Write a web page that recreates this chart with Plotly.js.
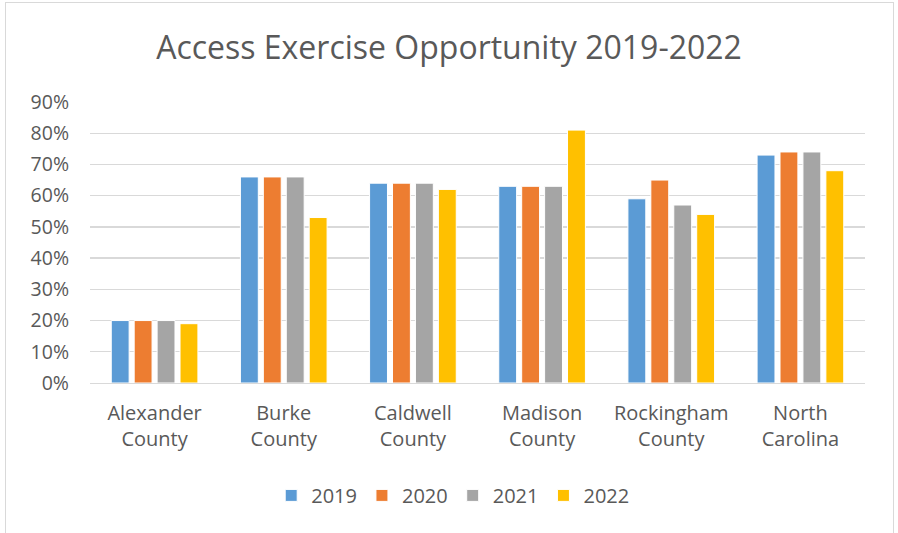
<!DOCTYPE html>
<html>
<head>
<meta charset="utf-8">
<script src="https://cdn.plot.ly/plotly-3.0.1.min.js"></script>
<style>
html,body{margin:0;padding:0;background:#fff;}
#wrap{position:relative;width:898px;height:533px;}
#chart{width:898px;height:533px;}
#frame{position:absolute;left:5px;top:2px;width:887px;height:540px;border:1px solid #D9D9D9;pointer-events:none;}
</style>
</head>
<body>
<div id="wrap"><div id="chart"></div><div id="frame"></div></div>
<script>
const categories = ["Alexander<br>County", "Burke<br>County", "Caldwell<br>County", "Madison<br>County", "Rockingham<br>County", "North<br>Carolina"];
const seriesNames = ["2019", "2020", "2021", "2022"];
const v2019 = [0.20, 0.66, 0.64, 0.63, 0.59, 0.73];
const v2020 = [0.20, 0.66, 0.64, 0.63, 0.65, 0.74];
const v2021 = [0.20, 0.66, 0.64, 0.63, 0.57, 0.74];
const v2022 = [0.19, 0.53, 0.62, 0.81, 0.54, 0.68];
const colors = ["#5B9BD5", "#ED7D31", "#A5A5A5", "#FFC000"];
const values = [v2019, v2020, v2021, v2022];
const tickVals = [0, 0.1, 0.2, 0.3, 0.4, 0.5, 0.6, 0.7, 0.8, 0.9];

const font = "Open Sans, sans-serif";
const traces = values.map((v, i) => ({
  type: "bar",
  name: seriesNames[i],
  x: categories,
  y: v,
  marker: {color: colors[i], line: {color: "#ffffff", width: 1}},
  hoverinfo: "skip"
}));

const layout = {
  width: 898, height: 533,
  margin: {l: 90, r: 33, t: 102, b: 150},
  paper_bgcolor: "#ffffff",
  plot_bgcolor: "#ffffff",
  barmode: "group",
  bargap: 0.29,
  bargroupgap: 0.22,
  showlegend: true,
  title: {text: "Access Exercise Opportunity 2019-2022", font: {family: font, size: 32, color: "#595959"}, x: 0.5, xanchor: "center", y: 0.91, yanchor: "middle"},
  xaxis: {
    type: "category",
    tickfont: {family: font, size: 20, color: "#595959"},
    showline: true, linecolor: "#D9D9D9", linewidth: 1,
    ticks: "", showgrid: false, ticklabelstandoff: 12
  },
  yaxis: {
    range: [0, 0.9],
    tickvals: tickVals,
    tickformat: ".0%",
    tickfont: {family: font, size: 19.5, color: "#595959"},
    showgrid: true, gridcolor: "#D9D9D9", gridwidth: 1.3,
    zeroline: false, showline: false, ticks: "",
    ticklabelstandoff: 20
  },
  legend: {
    orientation: "h", x: 0.468, xanchor: "center", y: -0.40, yanchor: "middle",
    font: {family: font, size: 20, color: "#595959"},
    itemwidth: 30, traceorder: "normal"
  }
};

Plotly.newPlot("chart", traces, layout, {displayModeBar: false, staticPlot: true});
</script>
</body>
</html>
